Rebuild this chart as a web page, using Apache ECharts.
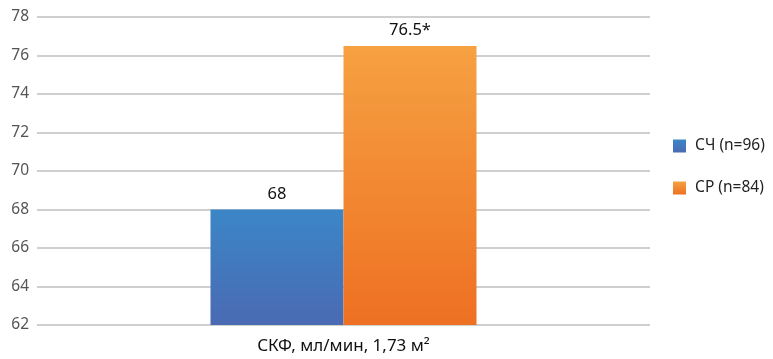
<!DOCTYPE html>
<html>
<head>
<meta charset="utf-8">
<script src="https://cdn.jsdelivr.net/npm/echarts@6/dist/echarts.min.js"></script>
<style>html,body{margin:0;padding:0;background:#fff}#c{width:773px;height:359px}</style>
</head>
<body>
<div id="c"></div>
<script>
const categories = ['СКФ, мл/мин, 1,73 м²'];
const seriesNames = ['СЧ (n=96)', 'СР (n=84)'];
const valuesSCh = [68];
const valuesSR = [76.5];
const labelsSCh = ['68'];
const labelsSR = ['76.5*'];
const yTicks = {min: 62, max: 78, interval: 2};

const font = 'Noto Sans';
const chart = echarts.init(document.getElementById('c'), null, {renderer: 'canvas'});
function grad(top, bottom) {
  return new echarts.graphic.LinearGradient(0, 0, 0, 1, [{offset: 0, color: top}, {offset: 1, color: bottom}]);
}
chart.setOption({
  animation: false,
  textStyle: {fontFamily: font},
  grid: {left: 37, right: 123, top: 17, bottom: 34, containLabel: false},
  legend: {
    orient: 'vertical', left: 668, top: 133, itemWidth: 13, itemHeight: 13, itemGap: 26,
    icon: 'rect',
    textStyle: {fontFamily: font, fontSize: 15.5, color: '#222', padding: [0, 0, 0, 4]},
    data: seriesNames
  },
  xAxis: {
    type: 'category', data: categories,
    axisLine: {show: false}, axisTick: {show: false},
    axisLabel: {fontFamily: font, fontSize: 17, color: '#111', margin: 13}
  },
  yAxis: {
    type: 'value', min: yTicks.min, max: yTicks.max, interval: yTicks.interval,
    axisLine: {show: false}, axisTick: {show: false},
    axisLabel: {fontFamily: font, fontSize: 15.5, color: '#555', margin: 8},
    splitLine: {lineStyle: {color: '#cfcfcf', width: 2}}
  },
  series: [
    {
      name: seriesNames[0], type: 'bar', data: valuesSCh, barWidth: 133, barGap: '0%',
      itemStyle: {color: grad('#3b86c7', '#4a6ab3')},
      label: {show: true, position: 'top', fontFamily: font, fontSize: 16.5, color: '#111', distance: 7,
        formatter: p => labelsSCh[p.dataIndex]}
    },
    {
      name: seriesNames[1], type: 'bar', data: valuesSR, barWidth: 133, barGap: '0%',
      itemStyle: {color: grad('#f6a142', '#ee7022')},
      label: {show: true, position: 'top', fontFamily: font, fontSize: 16.5, color: '#111', distance: 7,
        formatter: p => labelsSR[p.dataIndex]}
    }
  ]
});
</script>
</body>
</html>
